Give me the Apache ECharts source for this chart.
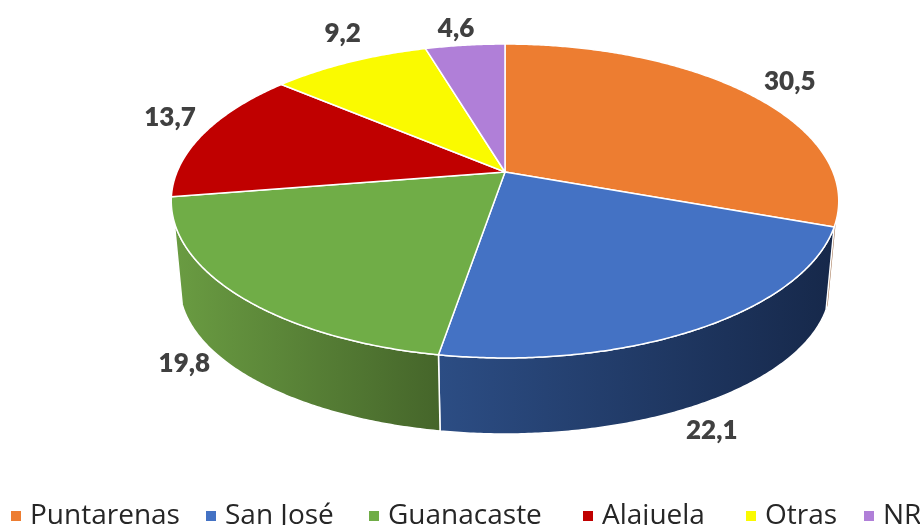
<!DOCTYPE html>
<html>
<head>
<meta charset="utf-8">
<style>
  html, body { margin: 0; padding: 0; background: #fff; }
  #chart { width: 920px; height: 525px; }
</style>
<script src="https://cdn.jsdelivr.net/npm/echarts@6/dist/echarts.min.js"></script>
</head>
<body>
<div id="chart"></div>
<script>
const categories = ["Puntarenas", "San José", "Guanacaste", "Alajuela", "Otras", "NR"];
const values = [30.5, 22.1, 19.8, 13.7, 9.2, 4.6];

const colors = ["#ED7D31", "#4472C4", "#70AD47", "#C00000", "#FAFA00", "#B07FD8"];
const sideColors = [
  ["#9c6a45", "#9c6a45"],
  ["#2c4d84", "#16284a"],
  ["#6a9c42", "#45652a"],
  ["#800000", "#800000"],
  ["#aaaa00", "#aaaa00"],
  ["#75548f", "#75548f"],
];
// label offset from the rim point at the middle of each slice
const labelOffsets = [[42, -12], [10, 103], [-53, 69], [-34, -16], [-7, -28], [-9, -17]];
// one legend per category, the legend font is narrower than the original so the gaps differ
const legendLefts = [11, 206, 369, 583, 746, 864];

// pie plane in perspective: top face and the lower face of the disc
const persp = 0.1847;
const topFace = { cx: 505, cy: 172, a: 328, m: 151.6 };
const lowFace = { cx: 505, cy: 257.5, a: 320, m: 143.9 };
// only this part of the rim (degrees clockwise from the top) shows a side wall
const sideFrom = 108;
const sideTo = 252;

function project(face, deg) {
  const t = deg * Math.PI / 180;
  const x = Math.sin(t);
  const y = -Math.cos(t);
  const d = 1 - persp * y;
  return [face.cx + face.a * x / d, face.cy + face.m * y / d];
}

function arc(face, from, to) {
  const pts = [];
  const n = Math.max(2, Math.ceil(Math.abs(to - from) * 2));
  for (let i = 0; i <= n; i++) {
    pts.push(project(face, from + (to - from) * i / n));
  }
  return pts;
}

const total = values.reduce((s, v) => s + v, 0);
let running = 0;
const seriesData = values.map((v) => {
  const row = [v, running];
  running += v;
  return row;
});

function renderSide(params, api) {
  const i = params.seriesIndex;
  const start = api.value(1) / total * 360;
  const end = start + api.value(0) / total * 360;
  const from = Math.max(start, sideFrom);
  const to = Math.min(end, sideTo);
  if (to <= from) return { type: "group", children: [] };
  const pts = arc(topFace, from, to).concat(arc(lowFace, to, from));
  return {
    type: "polygon",
    shape: { points: pts },
    style: {
      fill: new echarts.graphic.LinearGradient(0, 0, 1, 0, [
        { offset: 0, color: sideColors[i][0] },
        { offset: 1, color: sideColors[i][1] },
      ]),
      stroke: to - from > 5 ? "#fff" : null,
      lineWidth: 1.5,
    },
  };
}

function renderTop(params, api) {
  const i = params.seriesIndex - categories.length;
  const start = api.value(1) / total * 360;
  const end = start + api.value(0) / total * 360;
  const pts = [[topFace.cx, topFace.cy]].concat(arc(topFace, start, end));
  const rim = project(topFace, (start + end) / 2);
  return {
    type: "group",
    children: [
      {
        type: "polygon",
        shape: { points: pts },
        style: { fill: colors[i], stroke: "#fff", lineWidth: 1.5, lineJoin: "round" },
      },
      {
        type: "text",
        z2: 10,
        x: rim[0] + labelOffsets[i][0],
        y: rim[1] + labelOffsets[i][1],
        style: {
          text: String(api.value(0)).replace(".", ","),
          fill: "#404040",
          font: "800 26px Lato",
          align: "center",
          verticalAlign: "middle",
        },
      },
    ],
  };
}

const sideSeries = categories.map((name, i) => ({
  type: "custom",
  name: "side " + name,
  coordinateSystem: "none",
  renderItem: renderSide,
  data: [seriesData[i]],
  silent: true,
}));
const topSeries = categories.map((name, i) => ({
  type: "custom",
  name: name,
  coordinateSystem: "none",
  renderItem: renderTop,
  itemStyle: { color: colors[i] },
  data: [seriesData[i]],
  silent: true,
}));

const chart = echarts.init(document.getElementById("chart"), null, { renderer: "canvas" });
chart.setOption({
  animation: false,
  legend: categories.map((name, i) => ({
    data: [name],
    icon: "rect",
    left: legendLefts[i],
    top: 502,
    padding: 0,
    itemWidth: 10,
    itemHeight: 10,
    textStyle: { fontFamily: "Open Sans", fontSize: 28, color: "#262626", padding: [0, 0, 0, 4] },
    selectedMode: false,
  })),
  series: sideSeries.concat(topSeries),
});
</script>
</body>
</html>
